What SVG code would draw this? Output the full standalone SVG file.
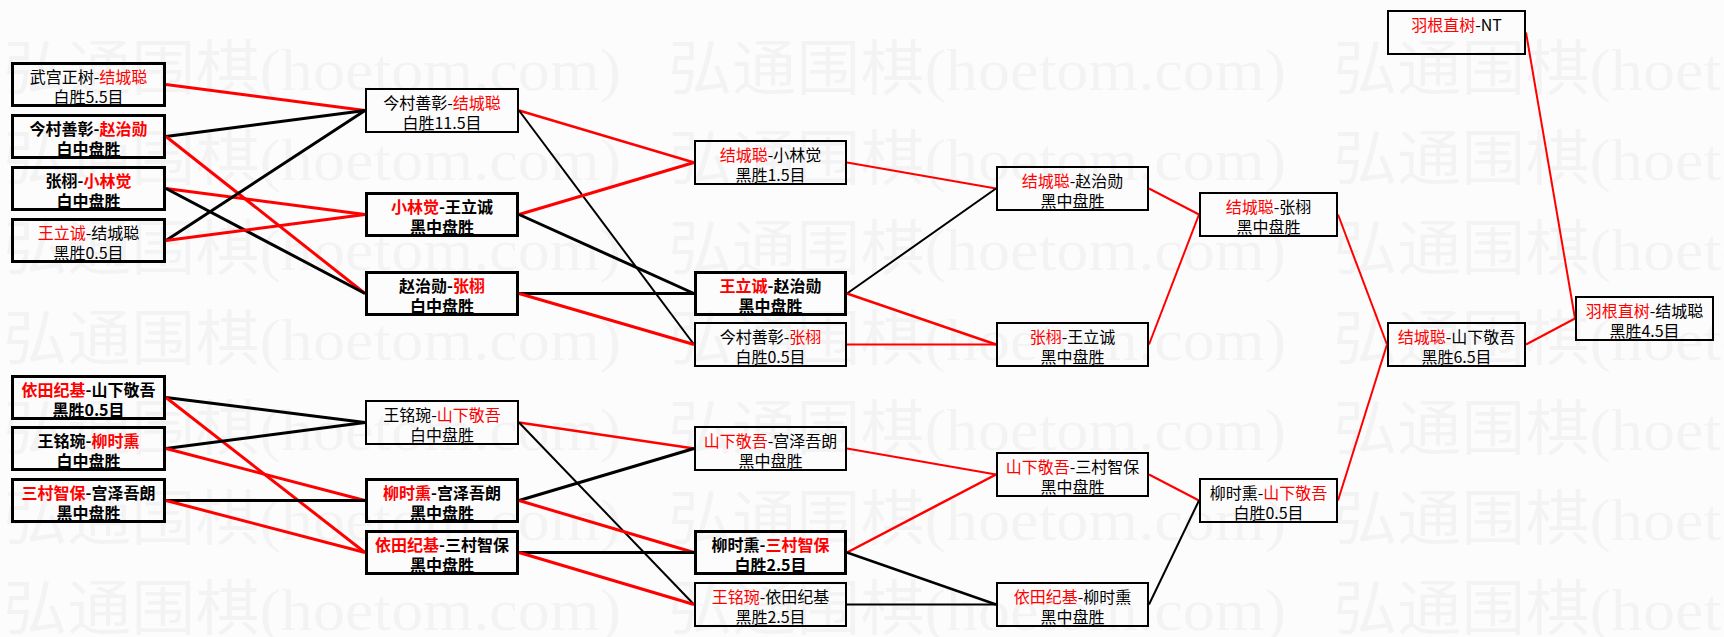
<svg xmlns="http://www.w3.org/2000/svg" width="1724" height="637" viewBox="0 0 1724 637">
<style>
.bg{fill:#fcfcfc}
.wm{font-family:"Liberation Serif","Noto Sans CJK SC",serif;font-size:60px;fill:#000;fill-opacity:0.035}
.box{fill:none;stroke:#000;stroke-width:2}
.hb{stroke-width:3}
.t{font-family:"Noto Sans CJK SC","Noto Sans CJK JP",sans-serif;font-size:16px;fill:#000;text-anchor:middle}
.hv{font-weight:bold}
.r{fill:#f00}
.cr{stroke:#f00;fill:none}
.ck{stroke:#000;fill:none}
.w3{stroke-width:3}
.w25{stroke-width:2.5}
.w2{stroke-width:2}
</style>
<rect class="bg" x="0" y="0" width="1724" height="637"/>
<g id="watermark">
<text class="wm" x="3" y="90" textLength="618" lengthAdjust="spacingAndGlyphs">弘通围棋(hoetom.com)</text>
<text class="wm" x="668" y="90" textLength="618" lengthAdjust="spacingAndGlyphs">弘通围棋(hoetom.com)</text>
<text class="wm" x="1333" y="90" textLength="618" lengthAdjust="spacingAndGlyphs">弘通围棋(hoetom.com)</text>
<text class="wm" x="3" y="180" textLength="618" lengthAdjust="spacingAndGlyphs">弘通围棋(hoetom.com)</text>
<text class="wm" x="668" y="180" textLength="618" lengthAdjust="spacingAndGlyphs">弘通围棋(hoetom.com)</text>
<text class="wm" x="1333" y="180" textLength="618" lengthAdjust="spacingAndGlyphs">弘通围棋(hoetom.com)</text>
<text class="wm" x="3" y="270" textLength="618" lengthAdjust="spacingAndGlyphs">弘通围棋(hoetom.com)</text>
<text class="wm" x="668" y="270" textLength="618" lengthAdjust="spacingAndGlyphs">弘通围棋(hoetom.com)</text>
<text class="wm" x="1333" y="270" textLength="618" lengthAdjust="spacingAndGlyphs">弘通围棋(hoetom.com)</text>
<text class="wm" x="3" y="360" textLength="618" lengthAdjust="spacingAndGlyphs">弘通围棋(hoetom.com)</text>
<text class="wm" x="668" y="360" textLength="618" lengthAdjust="spacingAndGlyphs">弘通围棋(hoetom.com)</text>
<text class="wm" x="1333" y="360" textLength="618" lengthAdjust="spacingAndGlyphs">弘通围棋(hoetom.com)</text>
<text class="wm" x="3" y="450" textLength="618" lengthAdjust="spacingAndGlyphs">弘通围棋(hoetom.com)</text>
<text class="wm" x="668" y="450" textLength="618" lengthAdjust="spacingAndGlyphs">弘通围棋(hoetom.com)</text>
<text class="wm" x="1333" y="450" textLength="618" lengthAdjust="spacingAndGlyphs">弘通围棋(hoetom.com)</text>
<text class="wm" x="3" y="540" textLength="618" lengthAdjust="spacingAndGlyphs">弘通围棋(hoetom.com)</text>
<text class="wm" x="668" y="540" textLength="618" lengthAdjust="spacingAndGlyphs">弘通围棋(hoetom.com)</text>
<text class="wm" x="1333" y="540" textLength="618" lengthAdjust="spacingAndGlyphs">弘通围棋(hoetom.com)</text>
<text class="wm" x="3" y="630" textLength="618" lengthAdjust="spacingAndGlyphs">弘通围棋(hoetom.com)</text>
<text class="wm" x="668" y="630" textLength="618" lengthAdjust="spacingAndGlyphs">弘通围棋(hoetom.com)</text>
<text class="wm" x="1333" y="630" textLength="618" lengthAdjust="spacingAndGlyphs">弘通围棋(hoetom.com)</text>
</g>
<g id="connectors">
<line class="cr w3" x1="166" y1="84.5" x2="365" y2="110.5"/>
<line class="ck w3" x1="166" y1="136.5" x2="365" y2="110.5"/>
<line class="cr w3" x1="166" y1="136.5" x2="365" y2="293.5"/>
<line class="cr w3" x1="166" y1="188.5" x2="365" y2="214.5"/>
<line class="ck w3" x1="166" y1="188.5" x2="365" y2="293.5"/>
<line class="ck w3" x1="166" y1="240.5" x2="365" y2="110.5"/>
<line class="cr w3" x1="166" y1="240.5" x2="365" y2="214.5"/>
<line class="ck w3" x1="166" y1="397.5" x2="365" y2="422.5"/>
<line class="cr w3" x1="166" y1="397.5" x2="365" y2="552.5"/>
<line class="ck w3" x1="166" y1="448.5" x2="365" y2="422.5"/>
<line class="cr w3" x1="166" y1="448.5" x2="365" y2="500.5"/>
<line class="ck w3" x1="166" y1="500.5" x2="365" y2="500.5"/>
<line class="cr w3" x1="166" y1="500.5" x2="365" y2="552.5"/>
<line class="cr w25" x1="519" y1="110.5" x2="694" y2="162.5"/>
<line class="ck w2" x1="519" y1="110.5" x2="694" y2="344.5"/>
<line class="cr w3" x1="519" y1="214.5" x2="694" y2="162.5"/>
<line class="ck w3" x1="519" y1="214.5" x2="694" y2="293.5"/>
<line class="ck w3" x1="519" y1="293.5" x2="694" y2="293.5"/>
<line class="cr w3" x1="519" y1="293.5" x2="694" y2="344.5"/>
<line class="cr w25" x1="519" y1="422.5" x2="694" y2="448.5"/>
<line class="ck w2" x1="519" y1="422.5" x2="694" y2="604.5"/>
<line class="ck w3" x1="519" y1="500.5" x2="694" y2="448.5"/>
<line class="cr w3" x1="519" y1="500.5" x2="694" y2="552.5"/>
<line class="ck w3" x1="519" y1="552.5" x2="694" y2="552.5"/>
<line class="cr w3" x1="519" y1="552.5" x2="694" y2="604.5"/>
<line class="cr w2" x1="847" y1="162.5" x2="996" y2="188.5"/>
<line class="ck w2" x1="847" y1="293.5" x2="996" y2="188.5"/>
<line class="cr w25" x1="847" y1="293.5" x2="996" y2="344.5"/>
<line class="cr w2" x1="847" y1="344.5" x2="996" y2="344.5"/>
<line class="cr w2" x1="847" y1="448.5" x2="996" y2="474.5"/>
<line class="cr w25" x1="847" y1="552.5" x2="996" y2="474.5"/>
<line class="ck w25" x1="847" y1="552.5" x2="996" y2="604.5"/>
<line class="ck w2" x1="847" y1="604.5" x2="996" y2="604.5"/>
<line class="cr w2" x1="1149" y1="188.5" x2="1199" y2="214.5"/>
<line class="cr w2" x1="1149" y1="344.5" x2="1199" y2="214.5"/>
<line class="cr w2" x1="1149" y1="474.5" x2="1199" y2="500.5"/>
<line class="ck w2" x1="1149" y1="604.5" x2="1199" y2="500.5"/>
<line class="cr w2" x1="1338" y1="214.5" x2="1387" y2="344.5"/>
<line class="cr w2" x1="1338" y1="500.5" x2="1387" y2="344.5"/>
<line class="cr w2" x1="1526" y1="32.5" x2="1575" y2="318.5"/>
<line class="cr w2" x1="1526" y1="344.5" x2="1575" y2="318.5"/>
</g>
<g id="A1"><rect class="box hb" x="12.5" y="63.5" width="152" height="42"/><text class="t" x="88.5" y="83">武宫正树-<tspan class="r">结城聪</tspan></text><text class="t" x="88.5" y="103">白胜5.5目</text></g>
<g id="A2"><rect class="box hb" x="12.5" y="115.5" width="152" height="42"/><text class="t hv" x="88.5" y="135">今村善彰-<tspan class="r">赵治勋</tspan></text><text class="t hv" x="88.5" y="155">白中盘胜</text></g>
<g id="A3"><rect class="box hb" x="12.5" y="167.5" width="152" height="42"/><text class="t hv" x="88.5" y="187">张栩-<tspan class="r">小林觉</tspan></text><text class="t hv" x="88.5" y="207">白中盘胜</text></g>
<g id="A4"><rect class="box hb" x="12.5" y="219.5" width="152" height="42"/><text class="t" x="88.5" y="239"><tspan class="r">王立诚</tspan>-结城聪</text><text class="t" x="88.5" y="259">黑胜0.5目</text></g>
<g id="B1"><rect class="box hb" x="12.5" y="376.5" width="152" height="42"/><text class="t hv" x="88.5" y="396"><tspan class="r">依田纪基</tspan>-山下敬吾</text><text class="t hv" x="88.5" y="416">黑胜0.5目</text></g>
<g id="B2"><rect class="box hb" x="12.5" y="427.5" width="152" height="42"/><text class="t hv" x="88.5" y="447">王铭琬-<tspan class="r">柳时熏</tspan></text><text class="t hv" x="88.5" y="467">白中盘胜</text></g>
<g id="B3"><rect class="box hb" x="12.5" y="479.5" width="152" height="42"/><text class="t hv" x="88.5" y="499"><tspan class="r">三村智保</tspan>-宫泽吾朗</text><text class="t hv" x="88.5" y="519">黑中盘胜</text></g>
<g id="C1"><rect class="box" x="366" y="89" width="152" height="43"/><text class="t" x="442" y="109">今村善彰-<tspan class="r">结城聪</tspan></text><text class="t" x="442" y="129">白胜11.5目</text></g>
<g id="C2"><rect class="box hb" x="366.5" y="193.5" width="151" height="42"/><text class="t hv" x="442" y="213"><tspan class="r">小林觉</tspan>-王立诚</text><text class="t hv" x="442" y="233">黑中盘胜</text></g>
<g id="C3"><rect class="box hb" x="366.5" y="272.5" width="151" height="42"/><text class="t hv" x="442" y="292">赵治勋-<tspan class="r">张栩</tspan></text><text class="t hv" x="442" y="312">白中盘胜</text></g>
<g id="C4"><rect class="box" x="366" y="401" width="152" height="43"/><text class="t" x="442" y="421">王铭琬-<tspan class="r">山下敬吾</tspan></text><text class="t" x="442" y="441">白中盘胜</text></g>
<g id="C5"><rect class="box hb" x="366.5" y="479.5" width="151" height="42"/><text class="t hv" x="442" y="499"><tspan class="r">柳时熏</tspan>-宫泽吾朗</text><text class="t hv" x="442" y="519">黑中盘胜</text></g>
<g id="C6"><rect class="box hb" x="366.5" y="531.5" width="151" height="42"/><text class="t hv" x="442" y="551"><tspan class="r">依田纪基</tspan>-三村智保</text><text class="t hv" x="442" y="571">黑中盘胜</text></g>
<g id="D1"><rect class="box" x="695" y="141" width="151" height="43"/><text class="t" x="770.5" y="161"><tspan class="r">结城聪</tspan>-小林觉</text><text class="t" x="770.5" y="181">黑胜1.5目</text></g>
<g id="D2"><rect class="box hb" x="695.5" y="272.5" width="150" height="42"/><text class="t hv" x="770.5" y="292"><tspan class="r">王立诚</tspan>-赵治勋</text><text class="t hv" x="770.5" y="312">黑中盘胜</text></g>
<g id="D3"><rect class="box" x="695" y="323" width="151" height="43"/><text class="t" x="770.5" y="343">今村善彰-<tspan class="r">张栩</tspan></text><text class="t" x="770.5" y="363">白胜0.5目</text></g>
<g id="D4"><rect class="box" x="695" y="427" width="151" height="43"/><text class="t" x="770.5" y="447"><tspan class="r">山下敬吾</tspan>-宫泽吾朗</text><text class="t" x="770.5" y="467">黑中盘胜</text></g>
<g id="D5"><rect class="box hb" x="695.5" y="531.5" width="150" height="42"/><text class="t hv" x="770.5" y="551">柳时熏-<tspan class="r">三村智保</tspan></text><text class="t hv" x="770.5" y="571">白胜2.5目</text></g>
<g id="D6"><rect class="box" x="695" y="583" width="151" height="43"/><text class="t" x="770.5" y="603"><tspan class="r">王铭琬</tspan>-依田纪基</text><text class="t" x="770.5" y="623">黑胜2.5目</text></g>
<g id="E1"><rect class="box" x="997" y="167" width="151" height="43"/><text class="t" x="1072.5" y="187"><tspan class="r">结城聪</tspan>-赵治勋</text><text class="t" x="1072.5" y="207">黑中盘胜</text></g>
<g id="E2"><rect class="box" x="997" y="323" width="151" height="43"/><text class="t" x="1072.5" y="343"><tspan class="r">张栩</tspan>-王立诚</text><text class="t" x="1072.5" y="363">黑中盘胜</text></g>
<g id="E3"><rect class="box" x="997" y="453" width="151" height="43"/><text class="t" x="1072.5" y="473"><tspan class="r">山下敬吾</tspan>-三村智保</text><text class="t" x="1072.5" y="493">黑中盘胜</text></g>
<g id="E4"><rect class="box" x="997" y="583" width="151" height="43"/><text class="t" x="1072.5" y="603"><tspan class="r">依田纪基</tspan>-柳时熏</text><text class="t" x="1072.5" y="623">黑中盘胜</text></g>
<g id="F1"><rect class="box" x="1200" y="193" width="137" height="43"/><text class="t" x="1268.5" y="213"><tspan class="r">结城聪</tspan>-张栩</text><text class="t" x="1268.5" y="233">黑中盘胜</text></g>
<g id="F2"><rect class="box" x="1200" y="479" width="137" height="43"/><text class="t" x="1268.5" y="499">柳时熏-<tspan class="r">山下敬吾</tspan></text><text class="t" x="1268.5" y="519">白胜0.5目</text></g>
<g id="G1"><rect class="box" x="1388" y="11" width="137" height="43"/><text class="t" x="1456.5" y="31"><tspan class="r">羽根直树</tspan>-NT</text></g>
<g id="G2"><rect class="box" x="1388" y="323" width="137" height="43"/><text class="t" x="1456.5" y="343"><tspan class="r">结城聪</tspan>-山下敬吾</text><text class="t" x="1456.5" y="363">黑胜6.5目</text></g>
<g id="H1"><rect class="box" x="1576" y="297" width="137" height="43"/><text class="t" x="1644.5" y="317"><tspan class="r">羽根直树</tspan>-结城聪</text><text class="t" x="1644.5" y="337">黑胜4.5目</text></g>
</svg>
